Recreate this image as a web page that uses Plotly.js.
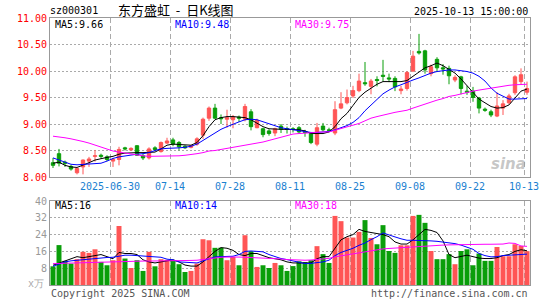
<!DOCTYPE html>
<html><head><meta charset="utf-8">
<script src="https://cdn.plot.ly/plotly-3.0.1.min.js"></script>
<style>html,body{margin:0;padding:0;background:#fff}#c{width:545px;height:300px}</style>
</head><body><div id="c"></div>
<script>
const idx = Array.from({length:80},(_,i)=>i);
const openP  = [8.27,8.44,8.28,8.20,8.08,8.19,8.30,8.39,8.41,8.38,8.30,8.33,8.55,8.51,8.59,8.40,8.36,8.55,8.48,8.64,8.70,8.65,8.58,8.56,8.62,8.79,9.11,9.30,9.12,9.09,9.08,9.13,9.09,9.23,8.93,8.91,8.87,8.83,8.96,8.91,8.91,8.93,8.86,8.82,8.62,8.96,8.89,8.83,9.30,9.40,9.53,9.63,9.78,9.71,9.84,9.92,9.87,9.86,9.63,9.67,10.00,10.37,10.38,9.95,10.22,10.06,10.05,9.83,9.89,9.62,9.62,9.49,9.28,9.23,9.15,9.30,9.40,9.59,9.80,9.60];
const highP  = [8.36,8.53,8.31,8.23,8.17,8.33,8.38,8.51,8.44,8.41,8.36,8.57,8.57,8.56,8.60,8.44,8.56,8.58,8.67,8.74,8.74,8.68,8.60,8.60,8.75,9.12,9.33,9.38,9.18,9.27,9.17,9.16,9.38,9.28,9.10,8.93,8.90,8.93,9.00,8.95,8.94,8.96,8.89,8.84,9.02,9.02,8.93,9.43,9.60,9.65,9.72,9.95,10.17,9.85,9.90,10.21,9.95,9.90,9.72,10.00,10.38,10.70,10.40,10.12,10.26,10.13,10.10,9.92,9.91,9.72,9.70,9.51,9.31,9.27,9.60,9.45,9.57,9.92,10.05,9.80];
const lowP   = [8.17,8.20,8.19,8.12,8.05,8.05,8.19,8.29,8.35,8.30,8.19,8.22,8.50,8.49,8.40,8.32,8.33,8.49,8.46,8.62,8.58,8.50,8.53,8.54,8.59,8.72,9.06,9.09,9.00,8.93,8.92,9.04,9.05,8.88,8.92,8.75,8.78,8.77,8.83,8.82,8.84,8.82,8.76,8.62,8.58,8.86,8.84,8.79,9.28,9.37,9.49,9.60,9.72,9.56,9.71,9.80,9.79,9.62,9.56,9.63,9.98,10.31,9.95,9.90,9.98,9.93,9.75,9.79,9.56,9.55,9.42,9.20,9.23,9.13,9.13,9.17,9.38,9.55,9.74,9.55];
const closeP = [8.22,8.26,8.26,8.15,8.16,8.32,8.34,8.40,8.39,8.33,8.33,8.52,8.53,8.54,8.41,8.36,8.53,8.52,8.65,8.68,8.62,8.57,8.55,8.59,8.72,9.09,9.30,9.11,9.10,9.12,9.13,9.11,9.33,8.95,9.07,8.80,8.82,8.91,8.90,8.90,8.90,8.85,8.84,8.65,8.93,8.89,8.88,9.27,9.38,9.50,9.63,9.81,9.76,9.81,9.82,9.90,9.85,9.70,9.66,9.97,10.28,10.34,10.02,10.08,10.06,10.04,9.91,9.88,9.67,9.60,9.50,9.30,9.26,9.17,9.34,9.38,9.53,9.89,9.93,9.67];
const ma5  = [8.26,8.28,8.22,8.19,8.18,8.22,8.27,8.32,8.35,8.37,8.39,8.43,8.45,8.46,8.46,8.46,8.46,8.47,8.53,8.60,8.62,8.61,8.60,8.60,8.65,8.78,8.95,9.08,9.12,9.14,9.14,9.13,9.12,9.08,9.02,8.95,8.91,8.90,8.90,8.90,8.90,8.89,8.87,8.82,8.82,8.82,8.85,8.95,9.10,9.20,9.35,9.50,9.60,9.68,9.75,9.80,9.80,9.80,9.80,9.82,9.90,9.98,10.06,10.10,10.15,10.10,10.03,9.96,9.85,9.72,9.60,9.47,9.40,9.33,9.30,9.31,9.36,9.50,9.62,9.66];
const ma10 = [8.36,8.32,8.27,8.24,8.23,8.24,8.25,8.25,8.26,8.30,8.35,8.38,8.40,8.42,8.43,8.44,8.46,8.50,8.53,8.54,8.54,8.55,8.56,8.58,8.62,8.69,8.76,8.84,8.90,8.95,9.00,9.04,9.08,9.09,9.08,9.04,9.01,8.97,8.93,8.91,8.89,8.87,8.86,8.84,8.84,8.85,8.86,8.89,8.93,8.97,9.03,9.12,9.25,9.36,9.47,9.57,9.64,9.70,9.74,9.79,9.83,9.87,9.92,9.96,9.99,10.01,10.02,10.02,10.01,9.99,9.96,9.90,9.81,9.68,9.58,9.52,9.47,9.47,9.48,9.48];
const ma30 = [8.77,8.76,8.74,8.72,8.70,8.67,8.64,8.60,8.57,8.53,8.49,8.47,8.45,8.43,8.41,8.40,8.39,8.39,8.39,8.39,8.39,8.40,8.41,8.42,8.44,8.46,8.49,8.50,8.52,8.54,8.56,8.57,8.59,8.61,8.63,8.66,8.69,8.72,8.75,8.79,8.81,8.82,8.83,8.84,8.84,8.85,8.85,8.88,8.91,8.94,8.97,9.01,9.06,9.11,9.14,9.17,9.20,9.22,9.24,9.26,9.30,9.34,9.38,9.41,9.45,9.48,9.52,9.54,9.57,9.60,9.62,9.64,9.66,9.67,9.69,9.71,9.73,9.74,9.75,9.75];
const vol  = [8.9,19.0,11.5,10.2,12.3,15.8,15.3,17.0,11.0,9.4,11.8,28.1,12.6,8.1,11.8,6.7,15.8,8.9,12.3,12.0,11.8,9.9,6.2,6.7,10.2,21.8,21.3,17.7,17.8,11.8,13.4,9.4,23.7,16.1,8.6,9.4,8.1,10.5,9.4,6.7,9.0,11.3,10.9,11.8,18.5,14.7,10.5,32.9,30.4,22.6,22.6,25.3,30.9,22.4,19.4,28.5,16.2,15.3,18.9,18.9,32.9,33.4,29.6,16.2,12.3,12.3,14.7,9.9,16.2,17.0,9.4,15.0,11.5,11.5,18.1,13.7,13.7,19.4,18.6,16.1];
const vma5 = [9.4,10.5,11.5,12.5,13.5,13.0,13.5,14.0,14.5,13.5,12.5,15.5,15.0,15.0,14.5,12.0,11.0,10.5,11.0,11.5,12.0,11.0,9.5,9.0,9.0,11.0,13.5,16.0,17.8,17.5,16.5,14.5,14.0,15.0,15.0,14.0,13.0,12.5,12.0,11.0,10.5,10.5,10.5,10.5,12.5,13.5,13.5,17.5,21.5,23.0,24.0,26.5,25.5,25.0,24.5,24.0,23.0,20.5,19.5,19.5,21.5,24.0,26.5,26.0,25.0,21.0,14.5,13.0,13.5,14.2,13.5,12.8,12.6,12.6,13.0,14.0,14.5,16.0,16.8,16.3];
const vma10= [8.9,10.0,11.0,11.5,11.8,12.1,12.4,12.7,12.9,13.1,13.2,13.8,14.2,14.2,14.0,13.8,13.7,13.6,13.2,12.3,12.0,11.0,10.8,10.6,10.5,11.5,12.5,13.4,13.5,13.6,13.7,14.5,16.0,16.2,16.0,15.8,14.5,13.4,12.6,12.1,11.5,10.8,10.2,10.3,10.5,11.0,11.8,14.0,15.5,16.5,17.5,18.9,20.0,21.6,23.0,24.8,24.0,22.9,22.0,21.3,21.3,21.3,21.3,21.0,20.8,20.5,20.2,19.7,19.0,18.1,17.0,15.0,14.0,13.4,13.5,14.0,14.2,14.4,14.6,14.7];
const vma30= [10.2,10.3,10.4,10.5,10.6,10.7,10.8,10.9,11.0,11.0,11.1,11.2,11.3,11.3,11.4,11.4,11.4,11.4,11.5,11.5,11.5,11.5,11.6,11.7,11.8,12.2,12.6,13.0,13.2,13.3,13.4,13.3,13.2,13.1,13.0,12.9,12.8,12.6,12.4,12.1,11.9,11.8,11.8,11.9,12.2,12.5,12.7,13.4,13.9,14.5,15.0,15.4,15.8,16.2,16.9,17.2,17.4,17.6,17.8,18.0,18.1,18.4,18.7,18.9,18.9,19.0,19.1,19.2,19.3,19.4,19.4,19.4,19.4,19.4,19.4,19.5,20.0,19.8,18.6,18.4];
const dateTickPos = [9.5,19.5,29.5,39.5,49.5,59.5,69.5,78.5];
const dateTickText = ['2025-06-30','07-14','07-28','08-11','08-25','09-08','09-22','10-13'];
const priceTicks = [8,8.5,9,9.5,10,10.5,11];
const volTicks = [8,16,24,32,40];

const RED='#ff5555', GREEN='#0a9e0a', MONO='DejaVu Sans Mono, Liberation Mono, monospace';
const volColors = vol.map((v,i)=> closeP[i]>=openP[i]?RED:GREEN);

const traces = [
 {type:'candlestick', x:idx, open:openP, high:highP, low:lowP, close:closeP, xaxis:'x', yaxis:'y',
  increasing:{line:{color:RED,width:1}, fillcolor:RED}, decreasing:{line:{color:GREEN,width:1}, fillcolor:GREEN},
  whiskerwidth:0, hoverinfo:'skip'},
 {type:'scatter', mode:'lines', x:idx, y:ma5, line:{color:'#000000',width:1}, xaxis:'x', yaxis:'y', hoverinfo:'skip'},
 {type:'scatter', mode:'lines', x:idx, y:ma10, line:{color:'#0000ff',width:1}, xaxis:'x', yaxis:'y', hoverinfo:'skip'},
 {type:'scatter', mode:'lines', x:idx, y:ma30, line:{color:'#ff00ff',width:1}, xaxis:'x', yaxis:'y', hoverinfo:'skip'},
 {type:'bar', x:idx, y:vol, marker:{color:volColors, line:{width:0}}, xaxis:'x2', yaxis:'y2', hoverinfo:'skip'},
 {type:'scatter', mode:'lines', x:idx, y:vma5, line:{color:'#000000',width:1}, xaxis:'x2', yaxis:'y2', hoverinfo:'skip'},
 {type:'scatter', mode:'lines', x:idx, y:vma10, line:{color:'#0000ff',width:1}, xaxis:'x2', yaxis:'y2', hoverinfo:'skip'},
 {type:'scatter', mode:'lines', x:idx, y:vma30, line:{color:'#ff00ff',width:1}, xaxis:'x2', yaxis:'y2', hoverinfo:'skip'}
];

const L=50, R=530, T=18, B=285;
const px = x => (x-L)/(R-L);
const py = y => (B-y)/(B-T);
const mainBottom = py(177), volTop = py(201);

function ann(text,x,y,color,anchor,size,family){
  return {text:text, x:px(x), y:py(y), xref:'paper', yref:'paper', xanchor:anchor||'left', yanchor:'middle',
    showarrow:false, font:{family:family||MONO, size:size||10, color:color||'#000'}};
}

const layout = {
  width:545, height:300, margin:{l:L, r:545-R, t:T, b:300-B, pad:0},
  paper_bgcolor:'#fff', plot_bgcolor:'#fff', showlegend:false, bargap:0.17,
  boxgap:0.2,
  xaxis:{domain:[0,1], anchor:'y', range:[-0.5,79.5], tickmode:'array', tickvals:dateTickPos, ticktext:dateTickText,
    tickfont:{family:MONO,size:10,color:'#1a80d0'}, ticks:'', showgrid:true, gridcolor:'#aaaaaa', griddash:'5px,3px', gridwidth:1,
    zeroline:false, showline:true, mirror:true, linecolor:'#999', linewidth:1, rangeslider:{visible:false}, fixedrange:true},
  yaxis:{domain:[mainBottom,1], anchor:'x', range:[8,11], tickmode:'array', tickvals:priceTicks, ticktext:priceTicks.map(v=>v.toFixed(2)),
    tickfont:{family:MONO,size:10,color:'#ff0000'}, ticks:'', showgrid:true, gridcolor:'#aaaaaa', griddash:'2px,2px',
    zeroline:false, showline:true, mirror:true, linecolor:'#999', linewidth:1, fixedrange:true},
  xaxis2:{domain:[0,1], anchor:'y2', range:[-0.5,79.5], matches:'x', tickmode:'array', tickvals:dateTickPos, showticklabels:false, ticks:'',
    showgrid:true, gridcolor:'#aaaaaa', griddash:'5px,3px', zeroline:false, showline:true, mirror:true, linecolor:'#999', linewidth:1, fixedrange:true},
  yaxis2:{domain:[0,volTop], anchor:'x2', range:[0,40], tickmode:'array', tickvals:volTicks, ticktext:volTicks.map(String),
    tickfont:{family:MONO,size:10,color:'#999999'}, ticks:'', showgrid:true, gridcolor:'#aaaaaa', griddash:'2px,2px',
    zeroline:false, showline:true, mirror:true, linecolor:'#999', linewidth:1, fixedrange:true},
  annotations:[
    ann('sz000301',48,11,'#000','left',10),
    ann('东方盛虹  -  日K线图',116,10,'#000','left',13,'Noto Sans CJK SC'),
    ann('2025-10-13 15:00:00',530,12,'#000','right',10),
    ann('MA5:'+ma5[79].toFixed(2),53,24,'#000','left',10),
    ann('MA10:'+ma10[79].toFixed(2),173,24,'#0000ff','left',10),
    ann('MA30:'+ma30[79].toFixed(2),293,24,'#ff00ff','left',10),
    ann('MA5:16',53,206,'#000','left',10),
    ann('MA10:14',173,206,'#0000ff','left',10),
    ann('MA30:18',293,206,'#ff00ff','left',10),
    ann('x万',46,283,'#aaaaaa','right',10),
    ann('Copyright 2025 SINA.COM',49,293,'#555','left',10),
    ann('http://finance.sina.com.cn',530,293,'#555','right',10),
    {text:'<b><i>sina</i></b>', x:px(528), y:py(164), xref:'paper', yref:'paper', xanchor:'right', yanchor:'middle', showarrow:false,
     font:{family:'DejaVu Sans', size:15, color:'rgba(150,150,150,0.55)'}}
  ]
};
Plotly.newPlot('c', traces, layout, {staticPlot:true, displayModeBar:false});
</script></body></html>
